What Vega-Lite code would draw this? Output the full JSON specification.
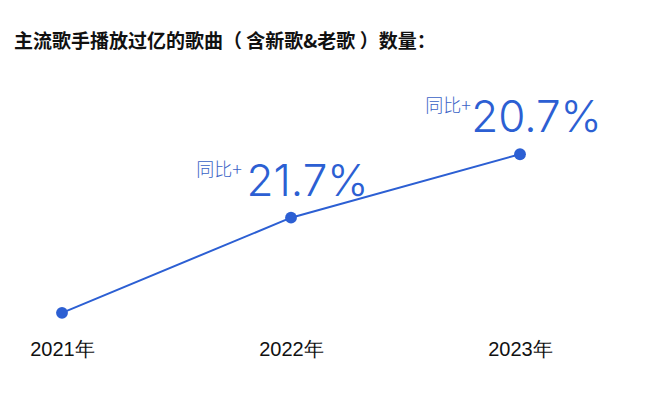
{
  "$schema": "https://vega.github.io/schema/vega-lite/v6.json",
  "autosize": "none",
  "padding": {"left": 62, "right": 137, "top": 70, "bottom": 68},
  "width": 458,
  "height": 260,
  "title": {
    "text": "主流歌手播放过亿的歌曲（ 含新歌&老歌 ）数量：",
    "anchor": "start",
    "frame": "group",
    "dx": -48,
    "offset": 18,
    "font": "Noto Sans CJK SC",
    "fontSize": 19,
    "fontWeight": "bold",
    "color": "#111111"
  },
  "config": {"view": {"stroke": null}},
  "data": {
    "values": [
      {"year": "2021年", "value": 6.6, "growth": null},
      {"year": "2022年", "value": 43.2, "growth": "21.7%"},
      {"year": "2023年", "value": 67.6, "growth": "20.7%"}
    ]
  },
  "encoding": {
    "x": {
      "field": "year",
      "type": "ordinal",
      "scale": {"type": "point", "padding": 0},
      "axis": {
        "title": null,
        "domain": false,
        "ticks": false,
        "tickSize": 0,
        "grid": false,
        "labelAngle": 0,
        "labelPadding": 9,
        "labelFontSize": 20,
        "labelFont": "Liberation Sans",
        "labelColor": "#111111"
      }
    },
    "y": {
      "field": "value",
      "type": "quantitative",
      "scale": {"domain": [0, 100]},
      "axis": null
    }
  },
  "layer": [
    {"mark": {"type": "line", "color": "#2c5fd3", "strokeWidth": 2}},
    {"mark": {"type": "point", "filled": true, "opacity": 1, "color": "#2c5fd3", "size": 140}},
    {
      "transform": [{"filter": "datum.growth != null"}],
      "mark": {"type": "text", "align": "center", "baseline": "alphabetic", "dx": 16.5, "dy": -22, "font": "Inter", "fontWeight": 300, "fontSize": 44, "color": "#2c5fd3"},
      "encoding": {"text": {"field": "growth"}}
    },
    {
      "transform": [{"filter": "datum.growth != null"}],
      "mark": {"type": "text", "text": "同比+", "align": "right", "baseline": "alphabetic", "dx": -49, "dy": -42, "font": "Noto Sans CJK SC", "fontWeight": 300, "fontSize": 18, "color": "#3a62c6"}
    }
  ]
}
